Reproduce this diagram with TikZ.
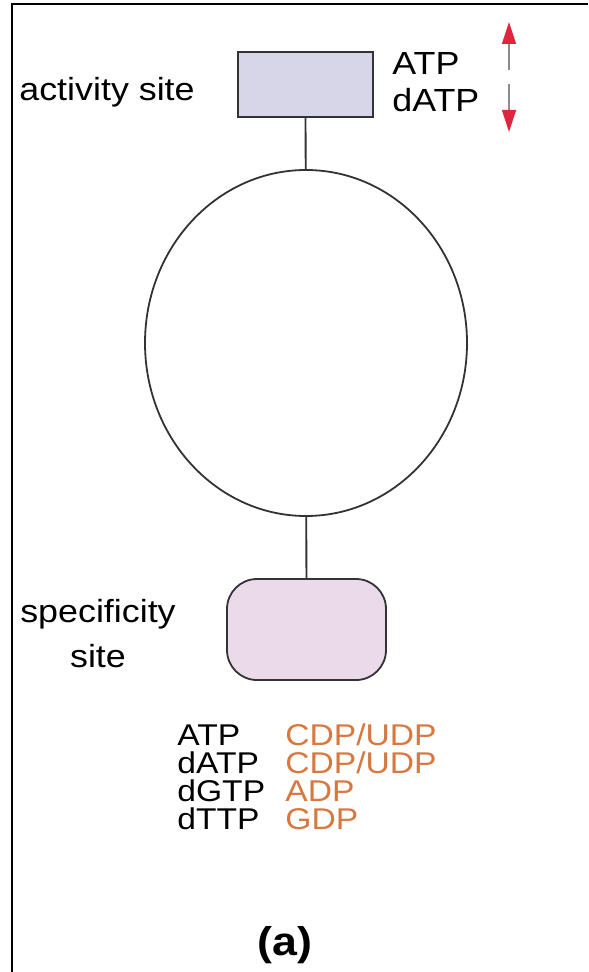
\documentclass[tikz,border=0pt]{standalone}
\usepackage{fontspec}
\usepackage{xcolor}
\usepackage{tikz}
\usetikzlibrary{positioning, arrows.meta, shapes.geometric}

\newfontfamily\lblfont{Liberation Sans}[FakeStretch=1.12]

\definecolor{actfill}{RGB}{214,214,232}
\definecolor{specfill}{RGB}{234,218,234}
\definecolor{subst}{RGB}{214,120,64}
\definecolor{tipred}{RGB}{222,38,62}

\begin{document}
\begin{tikzpicture}[
  x=0.5pt, y=-0.5pt,
  every node/.style={font=\lblfont\fontsize{16}{18.5}\selectfont},
  lbl/.style={anchor=base west, inner sep=0pt},
  tbl/.style={lbl, font=\lblfont\fontsize{15}{17}\selectfont},
  sub/.style={tbl, text=subst},
  site/.style={draw=black!80, line width=0.9pt},
  actbox/.style={site, rectangle, fill=actfill,
    minimum width=67.5pt, minimum height=32.5pt},
  specbox/.style={site, rectangle, rounded corners=15pt, fill=specfill,
    minimum width=79.5pt, minimum height=50.5pt},
  enzyme/.style={draw=black!80, line width=0.9pt, ellipse,
    minimum width=161pt, minimum height=173pt},
  link/.style={draw=black!80, line width=0.9pt},
  regarr/.style={-{Triangle[length=11pt, width=7pt, color=tipred]},
    draw=black!45, line width=0.6pt},
]
  \useasboundingbox (0,0) rectangle (588,972);

  % frame
  \draw[line width=1.2pt] (12,972) -- (12,4) -- (588,4);

  % enzyme with its two sites
  \node[actbox]  (act)  at (305.5,84.5) {};
  \node[enzyme]  (body) at (306,343)    {};
  \node[specbox] (spec) at (306.5,629.5) {};

  \draw[link] (act) -- (body);
  \draw[link] (body) -- (spec);

  \node[lbl] (actlbl) at (19,101) {activity site};
  \node[align=center, inner sep=0pt] (speclbl) at (98,634)
    {specificity\\[4pt]site};

  % effectors at the activity site
  \node[lbl] (atp)  at (392,75)  {ATP};
  \node[lbl] (datp) at (392,112) {dATP};

  \coordinate (upfrom) at (509,70);
  \coordinate (uptip)  at (509,22);
  \coordinate (dnfrom) at (509,84);
  \coordinate (dntip)  at (509,132);
  \draw[regarr] (upfrom) -- (uptip);
  \draw[regarr] (dnfrom) -- (dntip);

  % effector -> substrate table
  \node[tbl] (e1) at (177,745) {ATP};
  \node[tbl] (e2) at (177,773) {dATP};
  \node[tbl] (e3) at (177,801) {dGTP};
  \node[tbl] (e4) at (177,829) {dTTP};
  \node[sub] (s1) at (285,745) {CDP/UDP};
  \node[sub] (s2) at (285,773) {CDP/UDP};
  \node[sub] (s3) at (285,801) {ADP};
  \node[sub] (s4) at (285,829) {GDP};

  \node[inner sep=0pt, font=\lblfont\bfseries\fontsize{20}{24}\selectfont]
    (tag) at (285,945) {(a)};
\end{tikzpicture}
\end{document}
